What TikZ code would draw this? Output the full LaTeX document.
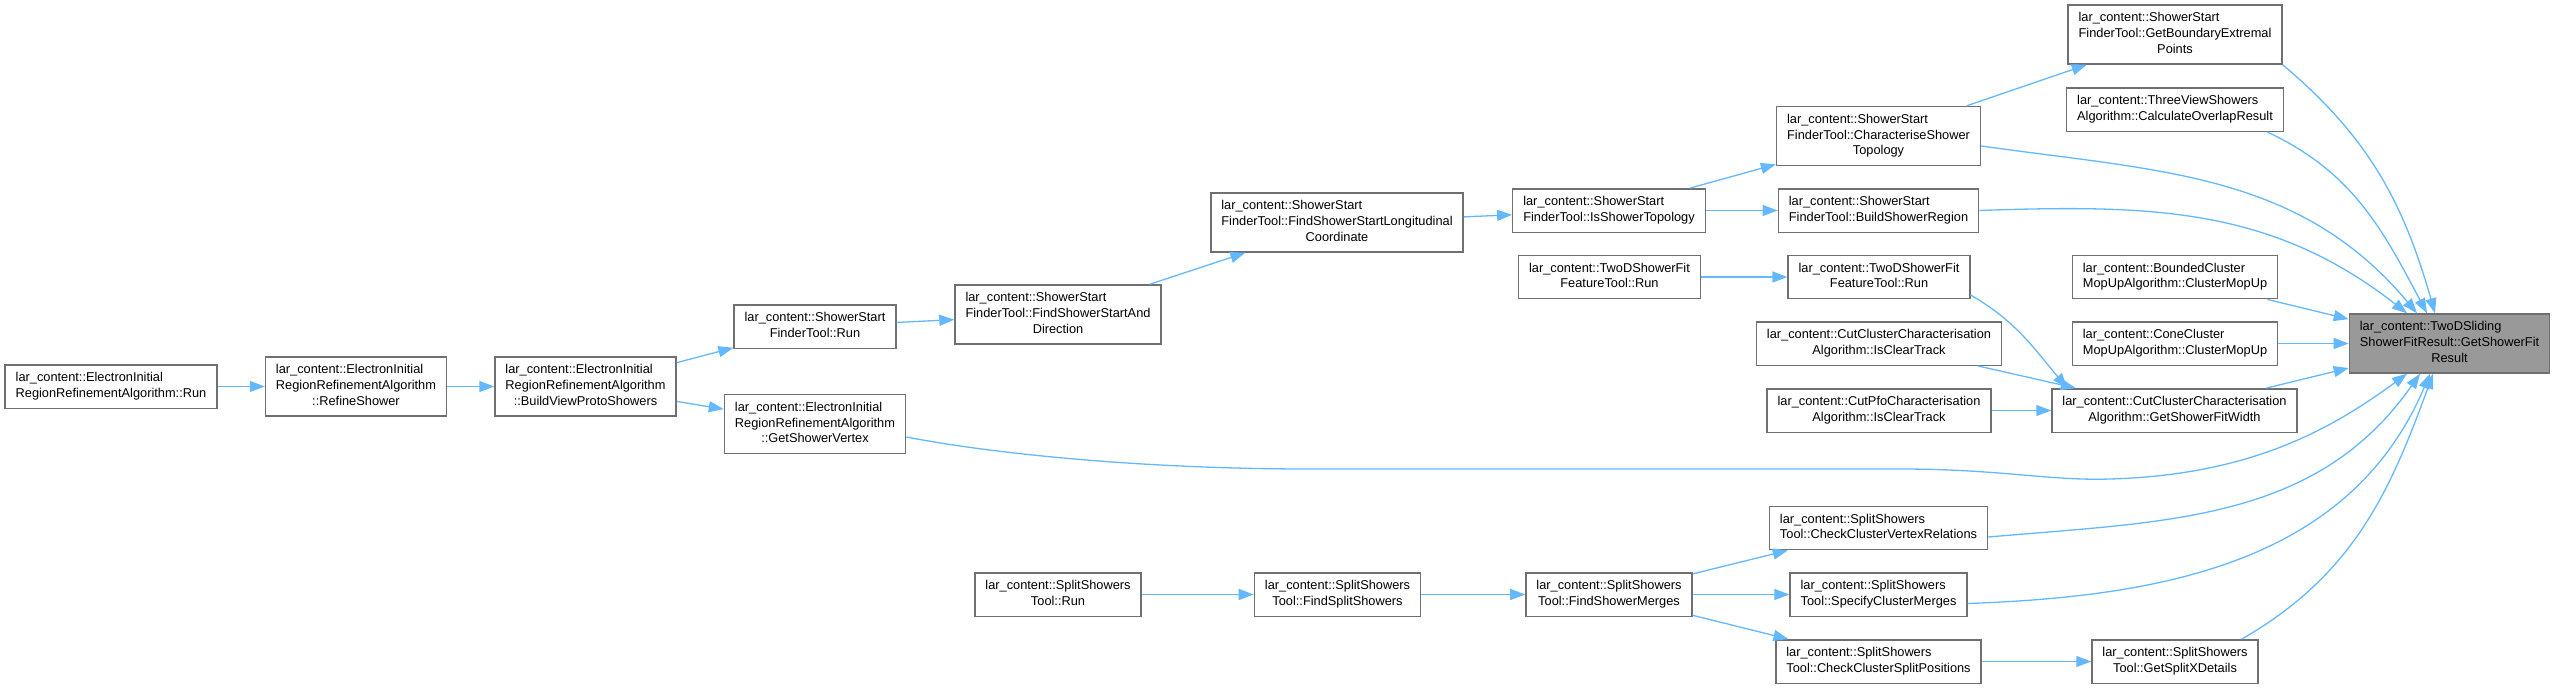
\documentclass[tikz,border=0pt]{standalone}
\usepackage{fontspec}
\setmainfont{Liberation Sans}
\usepackage{tikz}
\usetikzlibrary{arrows.meta}
\usepackage{xcolor}
\definecolor{callc}{RGB}{99,184,255}
\definecolor{boxc}{RGB}{112,112,112}
\definecolor{hitc}{RGB}{153,153,153}
% first lines left, last line centred
\newcommand{\fnlab}[2]{\begin{tabular}{@{}l@{}}#1\\\multicolumn{1}{@{}c@{}}{#2}\end{tabular}}
\tikzset{
  fnbox/.style={rectangle,draw=boxc,fill=white,line width=1.4pt,inner xsep=10.5pt,inner ysep=6pt,font=\fontsize{12.8pt}{15.7pt}\selectfont},
  hitbox/.style={fnbox,fill=hitc},
  call/.style={-{Triangle[length=15pt,width=11pt]},draw=callc,line width=1.3pt},
}

\begin{document}
\begin{tikzpicture}[x=1pt,y=-1pt]
  \useasboundingbox (0,0) rectangle (2556,688);
  % callers, left to right
  \node[fnbox] (eirun) at (111,386.5) {\fnlab{lar\_content::ElectronInitial}{RegionRefinementAlgorithm::Run}};
  \node[fnbox] (refine) at (356,386.5) {\fnlab{lar\_content::ElectronInitial\\RegionRefinementAlgorithm}{::RefineShower}};
  \node[fnbox] (buildview) at (585.5,386.5) {\fnlab{lar\_content::ElectronInitial\\RegionRefinementAlgorithm}{::BuildViewProtoShowers}};
  \node[fnbox] (ssrun) at (815,326.5) {\fnlab{lar\_content::ShowerStart}{FinderTool::Run}};
  \node[fnbox] (getvertex) at (815,424) {\fnlab{lar\_content::ElectronInitial\\RegionRefinementAlgorithm}{::GetShowerVertex}};
  \node[fnbox] (findstartdir) at (1058,314.5) {\fnlab{lar\_content::ShowerStart\\FinderTool::FindShowerStartAnd}{Direction}};
  \node[fnbox] (findlong) at (1337,222.5) {\fnlab{lar\_content::ShowerStart\\FinderTool::FindShowerStartLongitudinal}{Coordinate}};
  \node[fnbox] (isshowertopo) at (1609,210.5) {\fnlab{lar\_content::ShowerStart}{FinderTool::IsShowerTopology}};
  \node[fnbox] (tdsfA) at (1609.5,277) {\fnlab{lar\_content::TwoDShowerFit}{FeatureTool::Run}};
  \node[fnbox] (characterise) at (1878.5,136) {\fnlab{lar\_content::ShowerStart\\FinderTool::CharacteriseShower}{Topology}};
  \node[fnbox] (buildregion) at (1878.5,210.5) {\fnlab{lar\_content::ShowerStart}{FinderTool::BuildShowerRegion}};
  \node[fnbox] (tdsfB) at (1879,277) {\fnlab{lar\_content::TwoDShowerFit}{FeatureTool::Run}};
  \node[fnbox] (cutclear) at (1879,343.5) {\fnlab{lar\_content::CutClusterCharacterisation}{Algorithm::IsClearTrack}};
  \node[fnbox] (cutpfo) at (1879,410.5) {\fnlab{lar\_content::CutPfoCharacterisation}{Algorithm::IsClearTrack}};
  \node[fnbox] (boundary) at (2175,34.5) {\fnlab{lar\_content::ShowerStart\\FinderTool::GetBoundaryExtremal}{Points}};
  \node[fnbox] (overlap) at (2175,109.5) {\fnlab{lar\_content::ThreeViewShowers}{Algorithm::CalculateOverlapResult}};
  \node[fnbox] (bounded) at (2175,277) {\fnlab{lar\_content::BoundedCluster}{MopUpAlgorithm::ClusterMopUp}};
  \node[fnbox] (cone) at (2175,343.5) {\fnlab{lar\_content::ConeCluster}{MopUpAlgorithm::ClusterMopUp}};
  \node[fnbox] (fitwidth) at (2174.5,410.5) {\fnlab{lar\_content::CutClusterCharacterisation}{Algorithm::GetShowerFitWidth}};
  \node[hitbox] (target) at (2449.5,343.5) {\fnlab{lar\_content::TwoDSliding\\ShowerFitResult::GetShowerFit}{Result}};
  % split showers branch
  \node[fnbox] (ssplitrun) at (1058,594.5) {\fnlab{lar\_content::SplitShowers}{Tool::Run}};
  \node[fnbox] (findsplit) at (1337.5,594.5) {\fnlab{lar\_content::SplitShowers}{Tool::FindSplitShowers}};
  \node[fnbox] (findmerges) at (1609,594.5) {\fnlab{lar\_content::SplitShowers}{Tool::FindShowerMerges}};
  \node[fnbox] (vertexrel) at (1878.5,528) {\fnlab{lar\_content::SplitShowers}{Tool::CheckClusterVertexRelations}};
  \node[fnbox] (specify) at (1878.5,594.5) {\fnlab{lar\_content::SplitShowers}{Tool::SpecifyClusterMerges}};
  \node[fnbox] (splitpos) at (1878.5,661.5) {\fnlab{lar\_content::SplitShowers}{Tool::CheckClusterSplitPositions}};
  \node[fnbox] (splitx) at (2175,661.5) {\fnlab{lar\_content::SplitShowers}{Tool::GetSplitXDetails}};

  \draw[call] (eirun) -- (refine);
  \draw[call] (refine) -- (buildview);
  \draw[call] (buildview) -- (ssrun);
  \draw[call] (buildview) -- (getvertex);
  \draw[call] (ssrun) -- (findstartdir);
  \draw[call] (findstartdir) -- (findlong);
  \draw[call] (findlong) -- (isshowertopo);
  \draw[call] (isshowertopo) -- (characterise);
  \draw[call] (isshowertopo) -- (buildregion);
  \draw[call] (characterise) -- (boundary);
  \draw[call] (tdsfA) -- (tdsfB);
  \draw[call] ([yshift=-18pt]tdsfB.east) to[out=-30,in=130] ([xshift=16pt]fitwidth.north west);
  \draw[call] (cutclear) -- (fitwidth);
  \draw[call] (cutpfo) -- (fitwidth);
  \draw[call] (ssplitrun) -- (findsplit);
  \draw[call] (findsplit) -- (findmerges);
  \draw[call] (findmerges) -- (vertexrel);
  \draw[call] (findmerges) -- (specify);
  \draw[call] (findmerges) -- (splitpos);
  \draw[call] (splitpos) -- (splitx);
  % into the target
  \draw[call] (boundary.south east) to[out=-40,in=106] ([xshift=-14.5pt]target.north);
  \draw[call] ([xshift=-17pt]overlap.south east) to[out=-25,in=118] ([xshift=-22.5pt]target.north);
  \draw[call] ([yshift=-10pt]characterise.east) to[out=-8,in=130] ([xshift=-32.5pt]target.north);
  \draw[call] (buildregion.east) to[out=2,in=142] ([xshift=-42.5pt]target.north);
  \draw[call] (bounded) -- (target);
  \draw[call] (cone) -- (target);
  \draw[call] (fitwidth) -- (target);
  \draw[call] ([yshift=-13pt]getvertex.east) .. controls (1000,455) and (1150,469) .. (1310,469) -- (1900,469)
    .. controls (2000,469) and (2050,481) .. (2110,479) .. controls (2250,475) and (2330,430) .. ([xshift=-42.5pt]target.south);
  \draw[call] ([yshift=-9pt]vertexrel.east) to[out=5,in=-125] ([xshift=-29.5pt]target.south);
  \draw[call] ([yshift=-9pt]specify.east) to[out=2,in=-113] ([xshift=-19.5pt]target.south);
  \draw[call] ([xshift=-17pt]splitx.north east) to[out=30,in=-110] ([xshift=-16.5pt]target.south);
\end{tikzpicture}
\end{document}
